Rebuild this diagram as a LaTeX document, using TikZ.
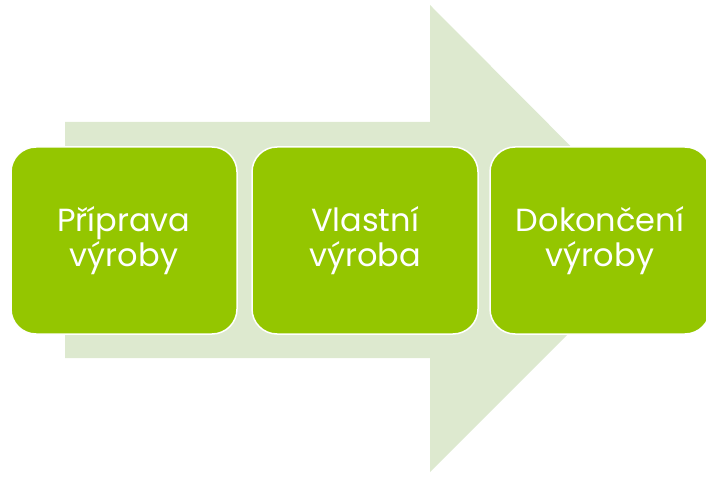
\documentclass[tikz,border=0pt]{standalone}
\usepackage{fontspec}
\setmainfont{Poppins}
\usepackage{xcolor}
\usepackage{tikz}
\usetikzlibrary{positioning}

\definecolor{stepgreen}{HTML}{94C600}
\definecolor{arrowgreen}{HTML}{DDE9CF}

\begin{document}
\begin{tikzpicture}[x=1pt, y=1pt,
  stage/.style={draw=white, line width=1.5pt, rounded corners=25pt, fill=stepgreen,
                minimum width=226pt, minimum height=187pt, text=white, align=center,
                font=\fontsize{32}{35}\selectfont},
  bigarrow/.style={fill=arrowgreen, draw=none}
]
  \clip (0,0) rectangle (706,477);
  % Background arrow
  \fill[bigarrow] (65,119) -- (65,355) -- (430,355) -- (430,472) -- (663,238)
    -- (430,5) -- (430,119) -- cycle;

  % Nodes
  \node[stage] (prep) at (124,236.5) {Příprava\\výroby};
  \node[stage] (prod) at (365,236.5) {Vlastní\\výroba};
  \node[stage, minimum width=220pt] (finish) at (600,236.5) {Dokončení\\výroby};
\end{tikzpicture}
\end{document}
